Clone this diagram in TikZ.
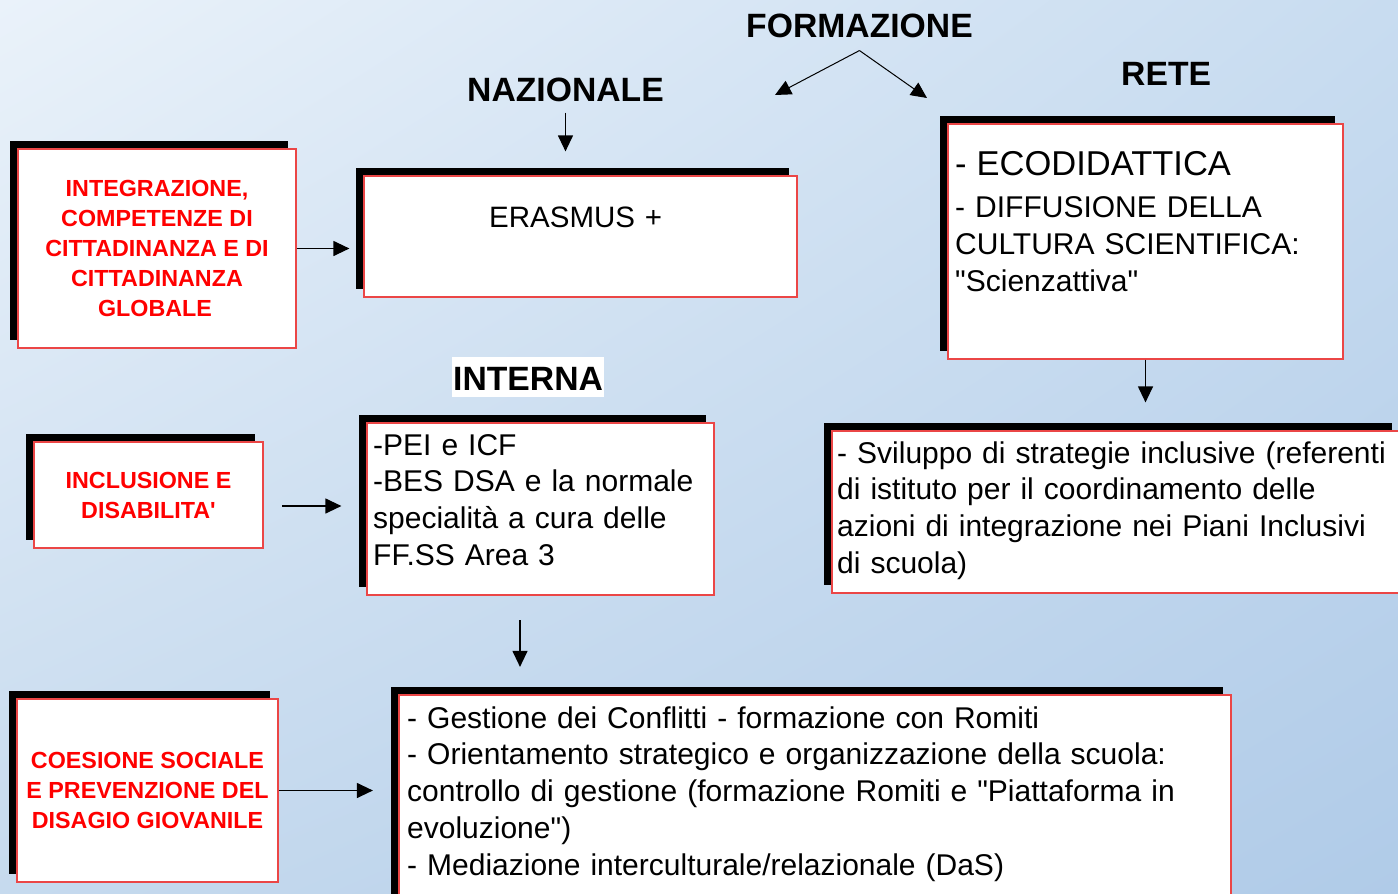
\documentclass[tikz,border=0pt]{standalone}
\usepackage{fontspec}
\setmainfont{Liberation Sans}
\usetikzlibrary{arrows.meta,shadows,shadings}
\definecolor{bgtl}{RGB}{234,242,250}
\definecolor{bgtr}{RGB}{200,220,240}
\definecolor{bgbl}{RGB}{198,218,238}
\definecolor{bgbr}{RGB}{176,203,232}
\definecolor{boxred}{RGB}{235,70,70}

\begin{document}
\begin{tikzpicture}[
    x=1pt, y=-1pt,
    box/.style={draw=boxred, line width=1.2pt, fill=white, inner sep=0pt,
        general shadow={fill=black, shadow xshift=-8pt, shadow yshift=8pt}},
    area/.style={box, text=red, align=center, font=\fontsize{23.3}{30}\selectfont\bfseries},
    header/.style={inner sep=0pt, anchor=base west, font=\fontsize{33.7}{40}\selectfont\bfseries},
    boxtext/.style={inner sep=0pt, anchor=base west, align=left, text width=560pt,
        font=\fontsize{30}{36.8}\selectfont},
    arrow/.style={draw=black, line width=1.2pt, -{Triangle[length=16pt,width=15pt]}}
]
    \useasboundingbox (0,0) rectangle (1398,894);
    \clip (0,0) rectangle (1398,894);
    \shade[upper left=bgtl, upper right=bgtr, lower left=bgbl, lower right=bgbr] (0,0) rectangle (1398,894);

    \node[header] (formazione) at (746,37) {FORMAZIONE};
    \node[header] (nazionale) at (467,101) {NAZIONALE};
    \node[header] (rete) at (1121,85) {RETE};
    \node[header, fill=white, inner xsep=1pt, inner ysep=7pt, text height=26pt, text depth=0pt] (interna) at (452,390) {INTERNA};

    \node[area, minimum width=278pt, minimum height=199pt] (integ) at (157,248.5) {INTEGRAZIONE,\\COMPETENZE DI\\CITTADINANZA E DI\\CITTADINANZA\\GLOBALE\hspace*{4pt}};
    \node[box, minimum width=433pt, minimum height=121pt] (erasmus) at (580.5,236.5) {};
    \node[boxtext, font=\fontsize{29.5}{36.8}\selectfont] (erasmustext) at (489,227) {ERASMUS +};
    \node[box, minimum width=395pt, minimum height=235pt] (retebox) at (1145.5,241.5) {};
    \node[boxtext] (retetext) at (955,175) {{\fontsize{34.5}{37}\selectfont - ECODIDATTICA}\\[6pt]- DIFFUSIONE DELLA\\CULTURA SCIENTIFICA:\\\textquotedbl Scienzattiva\textquotedbl};

    \node[area, minimum width=229pt, minimum height=106pt] (incl) at (148.5,495) {INCLUSIONE E\\DISABILITA\textquotesingle};
    \node[box, minimum width=347pt, minimum height=172pt] (ibox) at (540.5,509) {};
    \node[boxtext] (iboxtext) at (373,455) {-PEI e ICF\\-BES DSA e la normale\\specialità a cura delle\\FF.SS Area 3};
    \node[box, minimum width=568pt, minimum height=162pt] (svil) at (1116,512) {};
    \node[boxtext] (sviltext) at (837,463) {- Sviluppo di strategie inclusive (referenti\\di istituto per il coordinamento delle\\azioni di integrazione nei Piani Inclusivi\\di scuola)};

    \node[area, minimum width=261pt, minimum height=183pt] (coes) at (147.5,790.5) {COESIONE SOCIALE\\E PREVENZIONE DEL\\DISAGIO GIOVANILE};
    \node[box, minimum width=832pt, minimum height=245pt] (gest) at (815,817.5) {};
    \node[boxtext, text width=820pt] (gesttext) at (407,728) {- Gestione dei Conflitti - formazione con Romiti\\- Orientamento strategico e organizzazione della scuola:\\controllo di gestione (formazione Romiti e \textquotedbl Piattaforma in\\evoluzione\textquotedbl)\\- Mediazione interculturale/relazionale (DaS)};

    \coordinate (formleft) at (775,95);
    \coordinate (formright) at (927,98);
    \draw[arrow, line width=1pt] ([yshift=-13pt]formazione.south) -- (formleft);
    \draw[arrow, line width=1pt] ([yshift=-13pt]formazione.south) -- (formright);
    \draw[arrow, shorten <=11pt, shorten >=24pt] (nazionale.south) -- (nazionale.south |- erasmus.north);
    \draw[arrow, shorten >=14pt] (integ.east) -- (integ.east -| erasmus.west);
    \draw[arrow, shorten >=28pt] (retebox.south) -- (retebox.south |- svil.north);
    \draw[arrow, shorten <=18.5pt, shorten >=25pt] ([yshift=-11pt]incl.east) -- ([yshift=-11pt]incl.east -| ibox.west);
    \draw[arrow, shorten <=24.5pt, shorten >=27.5pt] ([xshift=-20.5pt]ibox.south) -- ([xshift=-20.5pt]ibox.south |- gest.north);
    \draw[arrow, shorten >=25.5pt] (coes.east) -- (coes.east -| gest.west);
\end{tikzpicture}
\end{document}
